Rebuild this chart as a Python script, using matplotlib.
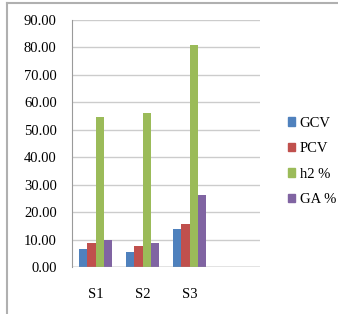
import matplotlib.pyplot as plt
import numpy as np
from matplotlib.lines import Line2D

categories = ['S1', 'S2', 'S3']
series_names = ['GCV', 'PCV', 'h2 %', 'GA %']
gcv = [6.45, 5.5, 13.8]
pcv = [8.6, 7.5, 15.8]
h2 = [54.5, 56.0, 80.9]
ga = [9.8, 8.9, 26.1]
colors = ['#4F81BD', '#C0504D', '#9BBB59', '#8064A2']

plt.rcParams['font.family'] = ['Liberation Serif', 'DejaVu Serif']

fig = plt.figure(figsize=(3.38, 3.14), dpi=100)
ax = fig.add_axes([72 / 338, 47 / 314, 188 / 338, 247 / 314])

x = np.arange(len(categories))
w = 0.18
for i, (vals, name) in enumerate(zip([gcv, pcv, h2, ga], series_names)):
    ax.bar(x + (i - 1.5) * w, vals, w, color=colors[i], label=name, zorder=3)

ax.set_xlim(-0.5, 3.5)
ax.set_ylim(0, 90)
ax.set_yticks(np.arange(0, 91, 10))
ax.set_yticklabels([f'{v:.2f}' for v in np.arange(0, 91, 10)], fontsize=10.5)
ax.set_xticks(x)
ax.set_xticklabels(categories, fontsize=10.5)
ax.tick_params(axis='y', length=0, pad=11)
ax.tick_params(axis='x', length=0, pad=15)
ax.grid(axis='y', color='#cccccc', linewidth=1, zorder=0)
for s in ['top', 'right', 'bottom']:
    ax.spines[s].set_visible(False)
ax.spines['left'].set_color('#9a9a9a')
ax.axhline(0, color='#9a9a9a', linewidth=1, zorder=4)

handles = [plt.Rectangle((0, 0), 1, 1, color=c) for c in colors]
fig.legend(handles, series_names, loc='upper left', bbox_to_anchor=(282 / 338, 1 - 111 / 314),
           frameon=False, fontsize=10.5, handlelength=0.5, handleheight=0.5,
           handletextpad=0.3, labelspacing=0.85, borderaxespad=0)

# outer chart border (top and left visible)
fig.add_artist(Line2D([7 / 338, 7 / 338], [0, 1 - 3 / 314], color='#b0b0b0', linewidth=1.5))
fig.add_artist(Line2D([7 / 338, 1], [1 - 3 / 314, 1 - 3 / 314], color='#b0b0b0', linewidth=1.5))

fig.savefig('out.png', dpi=100)
